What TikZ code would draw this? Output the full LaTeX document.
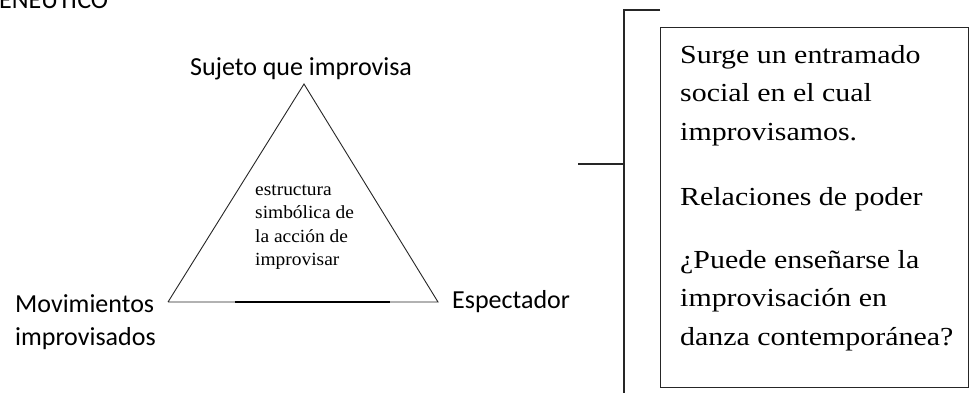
\documentclass[tikz,border=0pt]{standalone}
\usepackage{fontspec}
\setmainfont{Liberation Serif}
\newfontfamily\lblfont{Carlito}
\newfontfamily\boxfont[FakeStretch=1.15]{Liberation Serif}
\newfontfamily\innerfont[FakeStretch=1.05]{Liberation Serif}
\begin{document}
\begin{tikzpicture}[x=1pt,y=-1pt,
  lbl/.style={inner sep=0pt,anchor=base west,font=\lblfont\fontsize{26}{30}\selectfont},
  inner/.style={inner sep=0pt,anchor=base west,font=\innerfont\fontsize{18.5}{22}\selectfont},
  boxtxt/.style={inner sep=0pt,anchor=base west,font=\boxfont\fontsize{26}{30}\selectfont},
  tri/.style={draw=black!85,line width=0.9pt},
  brk/.style={draw=black!85,line width=1.3pt}]
\useasboundingbox (0,0) rectangle (971,392);
\clip (0,0) rectangle (971,392);
\fill[white] (0,0) rectangle (971,392);
% header
\node[lbl] (head) at (-1,8) {ENEUTICO};
% triangle corners
\coordinate (apex) at (304,84);
\coordinate (bl) at (168,302);
\coordinate (br) at (438,302);
\coordinate (tk1) at (235,302);
\coordinate (tk2) at (390,302);
\draw[tri] (bl) -- (apex) -- (br) -- (bl);
\draw[line width=2.2pt] (tk1) -- (tk2);
% labels
\node[lbl] (suj) at (190,75) {Sujeto que improvisa};
\node[lbl] (mov1) at (15,312) {Movimientos};
\node[lbl] (mov2) at (15,345) {improvisados};
\node[lbl] (esp) at (452,308) {Espectador};
% inner text
\node[inner] (in1) at (255,195) {estructura};
\node[inner] (in2) at (255,218) {simbólica de};
\node[inner] (in3) at (255,242) {la acción de};
\node[inner] (in4) at (255,265) {improvisar};
% bracket
\coordinate (btop) at (624,10);
\coordinate (btopr) at (660,10);
\coordinate (bbot) at (624,395);
\coordinate (bmid) at (624,164);
\coordinate (bleft) at (578,164);
\draw[brk] (btopr) -- (btop) -- (bbot);
\draw[brk] (bleft) -- (bmid);
% box
\node[draw=black!85,line width=1.3pt,minimum width=308pt,minimum height=360pt,inner sep=0pt,anchor=north west] (box) at (660,27) {};
\node[boxtxt] (t1) at (680,63) {Surge un entramado};
\node[boxtxt] (t2) at (680,101.5) {social en el cual};
\node[boxtxt] (t3) at (680,140) {improvisamos.};
\node[boxtxt] (t4) at (680,205) {Relaciones de poder};
\node[boxtxt] (t5) at (680,268) {¿Puede enseñarse la};
\node[boxtxt] (t6) at (680,306.5) {improvisación en};
\node[boxtxt] (t7) at (680,345) {danza contemporánea?};
\end{tikzpicture}
\end{document}
